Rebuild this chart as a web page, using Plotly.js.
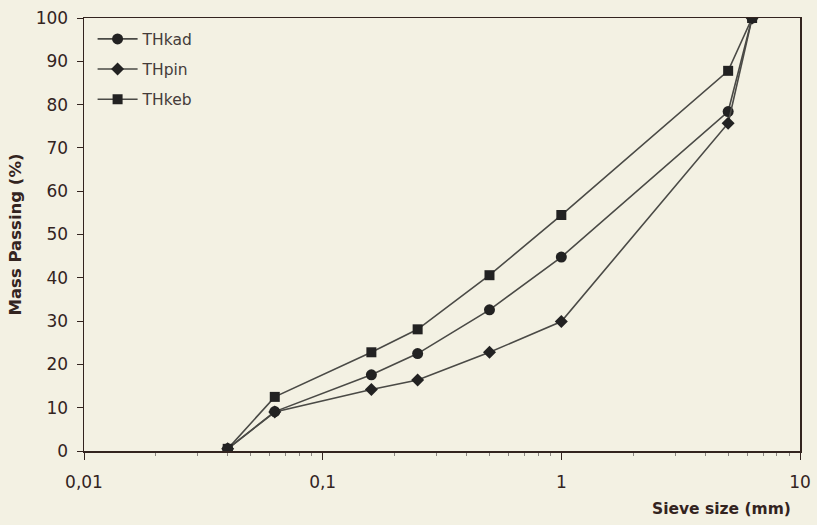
<!DOCTYPE html>
<html>
<head>
<meta charset="utf-8">
<script src="https://cdn.plot.ly/plotly-3.0.1.min.js"></script>
<style>
html,body{margin:0;padding:0;background:#f3f1e3;}
#chart{width:817px;height:525px;}
</style>
</head>
<body>
<div id="chart"></div>
<script>
const sieveSizes = [0.04, 0.063, 0.16, 0.25, 0.5, 1, 5, 6.3];
const thkad = [0.5, 9.1, 17.6, 22.5, 32.6, 44.8, 78.4, 100];
const thpin = [0.5, 9.0, 14.2, 16.4, 22.8, 29.9, 75.7, 100];
const thkeb = [0.5, 12.5, 22.8, 28.1, 40.6, 54.5, 87.8, 100];
const seriesNames = ['THkad', 'THpin', 'THkeb'];
const xTickVals = [0.01, 0.1, 1, 10];
const xTickText = ['0,01', '0,1', '1', '10'];
const yTickVals = [0, 10, 20, 30, 40, 50, 60, 70, 80, 90, 100];

// minor log ticks (axis configuration)
const minorTicks = [];
for (let d = -2; d <= 0; d++) for (let k = 2; k <= 9; k++) minorTicks.push(k * Math.pow(10, d));

const ink = '#33241f';
const lineCol = '#4a4a46';
const markCol = '#222222';
const fam = 'DejaVu Sans, Arial, sans-serif';

function mk(y, name, symbol, size) {
  return {
    x: sieveSizes, y: y, name: name, legendgroup: name, type: 'scatter', mode: 'lines+markers',
    line: {color: lineCol, width: 1.6},
    marker: {symbol: symbol, size: size, color: markCol}
  };
}

const data = [
  mk(thkad, seriesNames[0], 'circle', 11),
  mk(thpin, seriesNames[1], 'diamond', 10),
  mk(thkeb, seriesNames[2], 'square', 10)
];

const layout = {
  width: 817, height: 525,
  paper_bgcolor: '#f3f1e3', plot_bgcolor: '#f3f1e3',
  margin: {l: 84, r: 17, t: 18, b: 74},
  font: {family: fam, color: ink},
  showlegend: true,
  legend: {x: 0.012, y: 0.99, xanchor: 'left', yanchor: 'top', bgcolor: 'rgba(0,0,0,0)',
           font: {size: 15.5, color: '#443c3a'}, tracegroupgap: 7, itemwidth: 40},
  xaxis: {
    type: 'log', range: [-2, 1],
    tickvals: xTickVals, ticktext: xTickText,
    ticks: 'outside', ticklen: 7, tickcolor: ink, ticklabelstandoff: 8,
    showline: true, linecolor: ink, linewidth: 1.5, mirror: true,
    showgrid: false, zeroline: false,
    tickfont: {size: 17, color: ink, family: fam},
    minor: {tickmode: 'array', tickvals: minorTicks, ticks: 'outside', ticklen: 3, tickcolor: '#8a8580', showgrid: false}
  },
  yaxis: {
    range: [0, 100], tickvals: yTickVals,
    ticks: 'outside', ticklen: 6, tickcolor: ink, ticklabelstandoff: 5,
    showline: true, linecolor: ink, linewidth: 1.5, mirror: true,
    showgrid: false, zeroline: false,
    tickfont: {size: 17, color: ink, family: fam},
    title: {text: 'Mass Passing (%)', font: {size: 16.5, color: ink, weight: 'bold', family: fam}, standoff: 10}
  },
  annotations: [{
    text: '<b>Sieve size (mm)</b>', xref: 'paper', yref: 'paper',
    x: 0.99, y: -0.135, xanchor: 'right', yanchor: 'middle', showarrow: false,
    font: {size: 15.5, color: ink, family: fam}
  }]
};

Plotly.newPlot('chart', data, layout, {displayModeBar: false, staticPlot: true});
</script>
</body>
</html>
